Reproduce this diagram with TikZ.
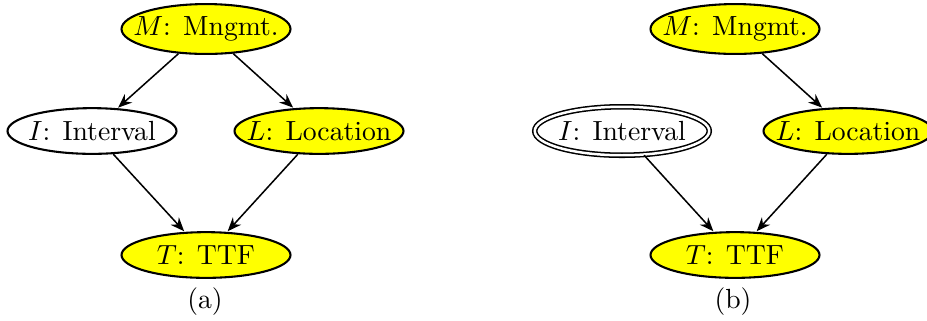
\documentclass[tikz,border=0pt]{standalone}
\usetikzlibrary{shapes.geometric,arrows.meta}
\definecolor{nodeyellow}{RGB}{255,255,0}
\tikzset{
  px/.style={x=0.361pt,y=-0.361pt},
  var/.style={ellipse, draw=black, line width=0.75pt, inner sep=0pt,
    minimum width=61pt, minimum height=16.5pt},
  obs/.style={var, fill=nodeyellow},
  dbl/.style={var, double, double distance=0.9pt, line width=0.55pt,
    minimum width=63pt, minimum height=17.5pt},
  conn/.style={-{Stealth[length=5pt,width=4pt]}, line width=0.55pt, shorten >=0.3pt},
  captext/.style={inner sep=0pt}
}
\begin{document}
\begin{tikzpicture}[px]
\useasboundingbox (0,0) rectangle (927,320);
\clip (0,0) rectangle (927,320);
% panel (a)
\node[obs, minimum height=18pt, label={center:$M$: Mngmt.}] (Ma) at (206,29) {};
\node[var, label={center:$I$: Interval}] (Ia) at (92,131) {};
\node[obs, label={center:$L$: Location}] (La) at (319,131) {};
\node[obs, label={center:$T$: TTF}] (Ta) at (206,255) {};
\draw[conn] (Ma) -- (Ia);
\draw[conn] (Ma) -- (La);
\draw[conn] (Ia) -- (Ta);
\draw[conn] (La) -- (Ta);
\node[captext] (capa) at (205,302) {(a)};
% panel (b)
\node[obs, minimum height=18pt, label={center:$M$: Mngmt.}] (Mb) at (735,29) {};
\node[dbl, label={center:$I$: Interval}] (Ib) at (622,131) {};
\node[obs, label={center:$L$: Location}] (Lb) at (848,131) {};
\node[obs, label={center:$T$: TTF}] (Tb) at (735,255) {};
\draw[conn] (Mb) -- (Lb);
\draw[conn] (Ib) -- (Tb);
\draw[conn] (Lb) -- (Tb);
\node[captext] (capb) at (733,302) {(b)};
\end{tikzpicture}
\end{document}
